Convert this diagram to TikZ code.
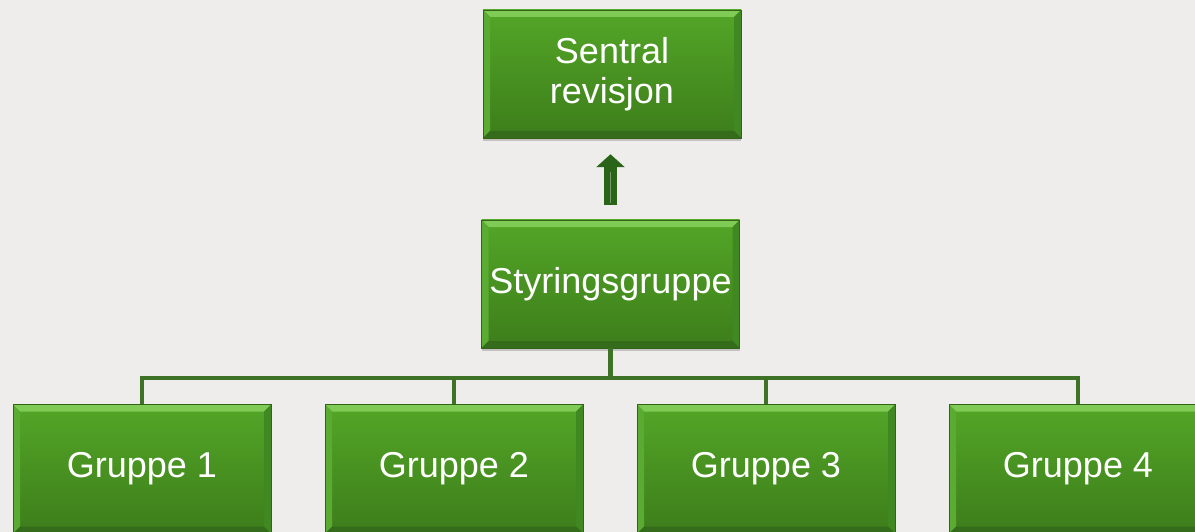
\documentclass[tikz,border=0pt]{standalone}
\usepackage{fontspec}
\setmainfont{Liberation Sans}
\usetikzlibrary{shadows,arrows.meta}
\definecolor{bg}{HTML}{EEEDEB}
\definecolor{gtop}{HTML}{53A627}
\definecolor{gbot}{HTML}{3D7D1B}
\definecolor{bevT}{HTML}{7FCB55}
\definecolor{bevL}{HTML}{5AAB32}
\definecolor{bevR}{HTML}{408821}
\definecolor{bevB}{HTML}{356C1B}
\definecolor{linec}{HTML}{3E7226}
\definecolor{arrowc}{HTML}{2A6418}
\tikzset{
  greenbox/.style={
    top color=gtop, bottom color=gbot, draw=gbot!80!black, line width=0.5pt,
    minimum width=258pt, text=white, align=center,
    font=\fontsize{36}{40}\selectfont, inner sep=0pt,
    drop shadow={shadow xshift=0pt, shadow yshift=-3pt, opacity=0.18, fill=black},
    path picture={
      \coordinate (nw) at (path picture bounding box.north west);
      \coordinate (ne) at (path picture bounding box.north east);
      \coordinate (sw) at (path picture bounding box.south west);
      \coordinate (se) at (path picture bounding box.south east);
      \fill[bevT] (nw) -- (ne) -- ([shift={(-7pt,-7pt)}]ne) -- ([shift={(7pt,-7pt)}]nw) -- cycle;
      \fill[bevL] (nw) -- ([shift={(7pt,-7pt)}]nw) -- ([shift={(7pt,7pt)}]sw) -- (sw) -- cycle;
      \fill[bevR] (ne) -- ([shift={(-7pt,-7pt)}]ne) -- ([shift={(-7pt,7pt)}]se) -- (se) -- cycle;
      \fill[bevB] (sw) -- ([shift={(7pt,7pt)}]sw) -- ([shift={(-7pt,7pt)}]se) -- (se) -- cycle;
    }
  },
  tree/.style={draw=linec, line width=4.5pt, line join=miter}
}
\begin{document}
\begin{tikzpicture}[x=1pt,y=-1pt]
  \useasboundingbox (0,0) rectangle (1195,532);
  \fill[bg] (0,0) rectangle (1195,532);
  \clip (0,0) rectangle (1195,532);
  \node[greenbox, minimum height=128pt] (sr) at (612,74) {Sentral\\revisjon};
  \node[greenbox, minimum height=128pt] (sg) at (610.5,284) {Styringsgruppe};
  \node[greenbox, minimum height=129pt] (g1) at (142,469) {Gruppe 1};
  \node[greenbox, minimum height=129pt] (g2) at (454,469) {Gruppe 2};
  \node[greenbox, minimum height=129pt] (g3) at (766,469) {Gruppe 3};
  \node[greenbox, minimum height=129pt] (g4) at (1078,469) {Gruppe 4};
  % block arrow from Styringsgruppe up to Sentral revisjon
  \coordinate (atail) at ([yshift=15pt]sg.north);
  \coordinate (ahead) at ([yshift=-16pt]sg.north |- sr.south);
  \draw[arrowc, line width=13pt, -{Triangle[width=28pt,length=13pt]}] (atail) -- (ahead);
  \draw[arrowc!65!white, line width=1pt] ([yshift=2pt]atail) -- ([yshift=-18pt]ahead);
  % tree connectors
  \coordinate (bus) at (611,378);
  \draw[tree] (sg.south) -- (sg.south |- bus) -| (g1.north);
  \draw[tree] (sg.south |- bus) -| (g2.north);
  \draw[tree] (sg.south |- bus) -| (g3.north);
  \draw[tree] (sg.south |- bus) -| (g4.north);
\end{tikzpicture}
\end{document}
